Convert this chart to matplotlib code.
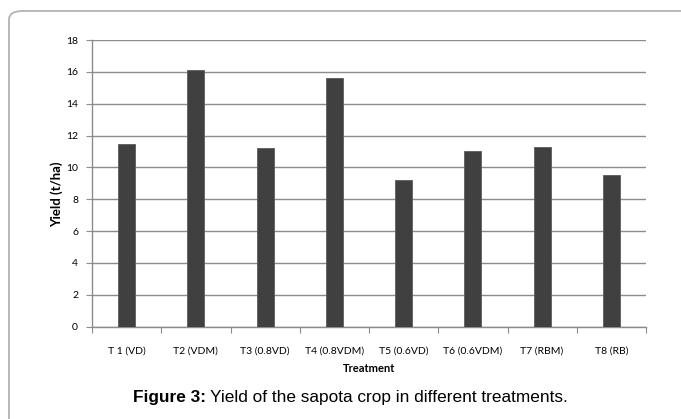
import matplotlib
matplotlib.use("Agg")
import matplotlib.pyplot as plt
from matplotlib.patches import FancyBboxPatch
import numpy as np

# data
treatments = ['T 1 (VD)', 'T2 (VDM)', 'T3 (0.8VD)', 'T4 (0.8VDM)',
              'T5 (0.6VD)', 'T6 (0.6VDM)', 'T7 (RBM)', 'T8 (RB)']
yieldVals = [11.5, 16.1, 11.2, 15.6, 9.2, 11.05, 11.3, 9.5]
yTicks = [0, 2, 4, 6, 8, 10, 12, 14, 16, 18]

narrow = ['Lato', 'DejaVu Sans']
arial = ['Liberation Sans', 'DejaVu Sans']

fig = plt.figure(figsize=(6.81, 4.19), dpi=100)

# rounded frame round the figure, cut off at right and bottom
frame = FancyBboxPatch((9/681, -0.3), 1.3, 1.3 - 11/419,
                       boxstyle="round,pad=0,rounding_size=0.02",
                       transform=fig.transFigure, fill=False,
                       edgecolor='#b8b8b8', linewidth=1.4, zorder=0)
fig.patches.append(frame)

ax = fig.add_axes([92/681, 1 - 326.7/419, (646 - 92)/681, (326.7 - 40)/419])

x = np.arange(len(treatments))
ax.bar(x, yieldVals, width=0.245, color='#404040', edgecolor='#5c5c5c',
       linewidth=0.6, zorder=3)

ax.set_xlim(-0.5, len(treatments) - 0.5)
ax.set_ylim(0, 18)
ax.set_yticks(yTicks)
ax.set_yticklabels([str(t) for t in yTicks], family=narrow, fontsize=7.5)
ax.yaxis.grid(True, color='#8c8c8c', linewidth=1.0, zorder=0)
ax.set_axisbelow(True)

# category labels between boundary ticks
ax.set_xticks(np.arange(len(treatments) + 1) - 0.5)
ax.set_xticklabels([])
ax.set_xticks(x, minor=True)
ax.set_xticklabels(treatments, minor=True, family=narrow, fontsize=7.5)
ax.tick_params(axis='x', which='minor', length=0, pad=14)
ax.tick_params(axis='x', which='major', length=4, color='#8c8c8c', direction='out')
ax.tick_params(axis='y', length=4, color='#8c8c8c', direction='out', pad=6)

for s in ['top', 'right']:
    ax.spines[s].set_visible(False)
for s in ['left', 'bottom']:
    ax.spines[s].set_color('#8c8c8c')
    ax.spines[s].set_linewidth(1.0)

ax.set_xlabel('Treatment', family=narrow, fontsize=8, fontweight='bold', va='center')
ax.set_ylabel('Yield (t/ha)', family=narrow, fontsize=9.5, fontweight='bold', va='center')
ax.xaxis.set_label_coords(0.5, -(368 - 326.7)/286.7)
ax.yaxis.set_label_coords(-(92 - 57)/554, (326.7 - 194)/286.7)

capY = 1 - 397/419
t1 = fig.text(133/681, capY, 'Figure 3:', family=arial,
              fontsize=12.4, fontweight='bold', va='center', ha='left')
fig.canvas.draw()
bb = t1.get_window_extent()
fig.text((bb.x1 + 4)/681, capY, 'Yield of the sapota crop in different treatments.',
         family=arial, fontsize=12.4, va='center', ha='left')

fig.savefig('out.png', dpi=100)
